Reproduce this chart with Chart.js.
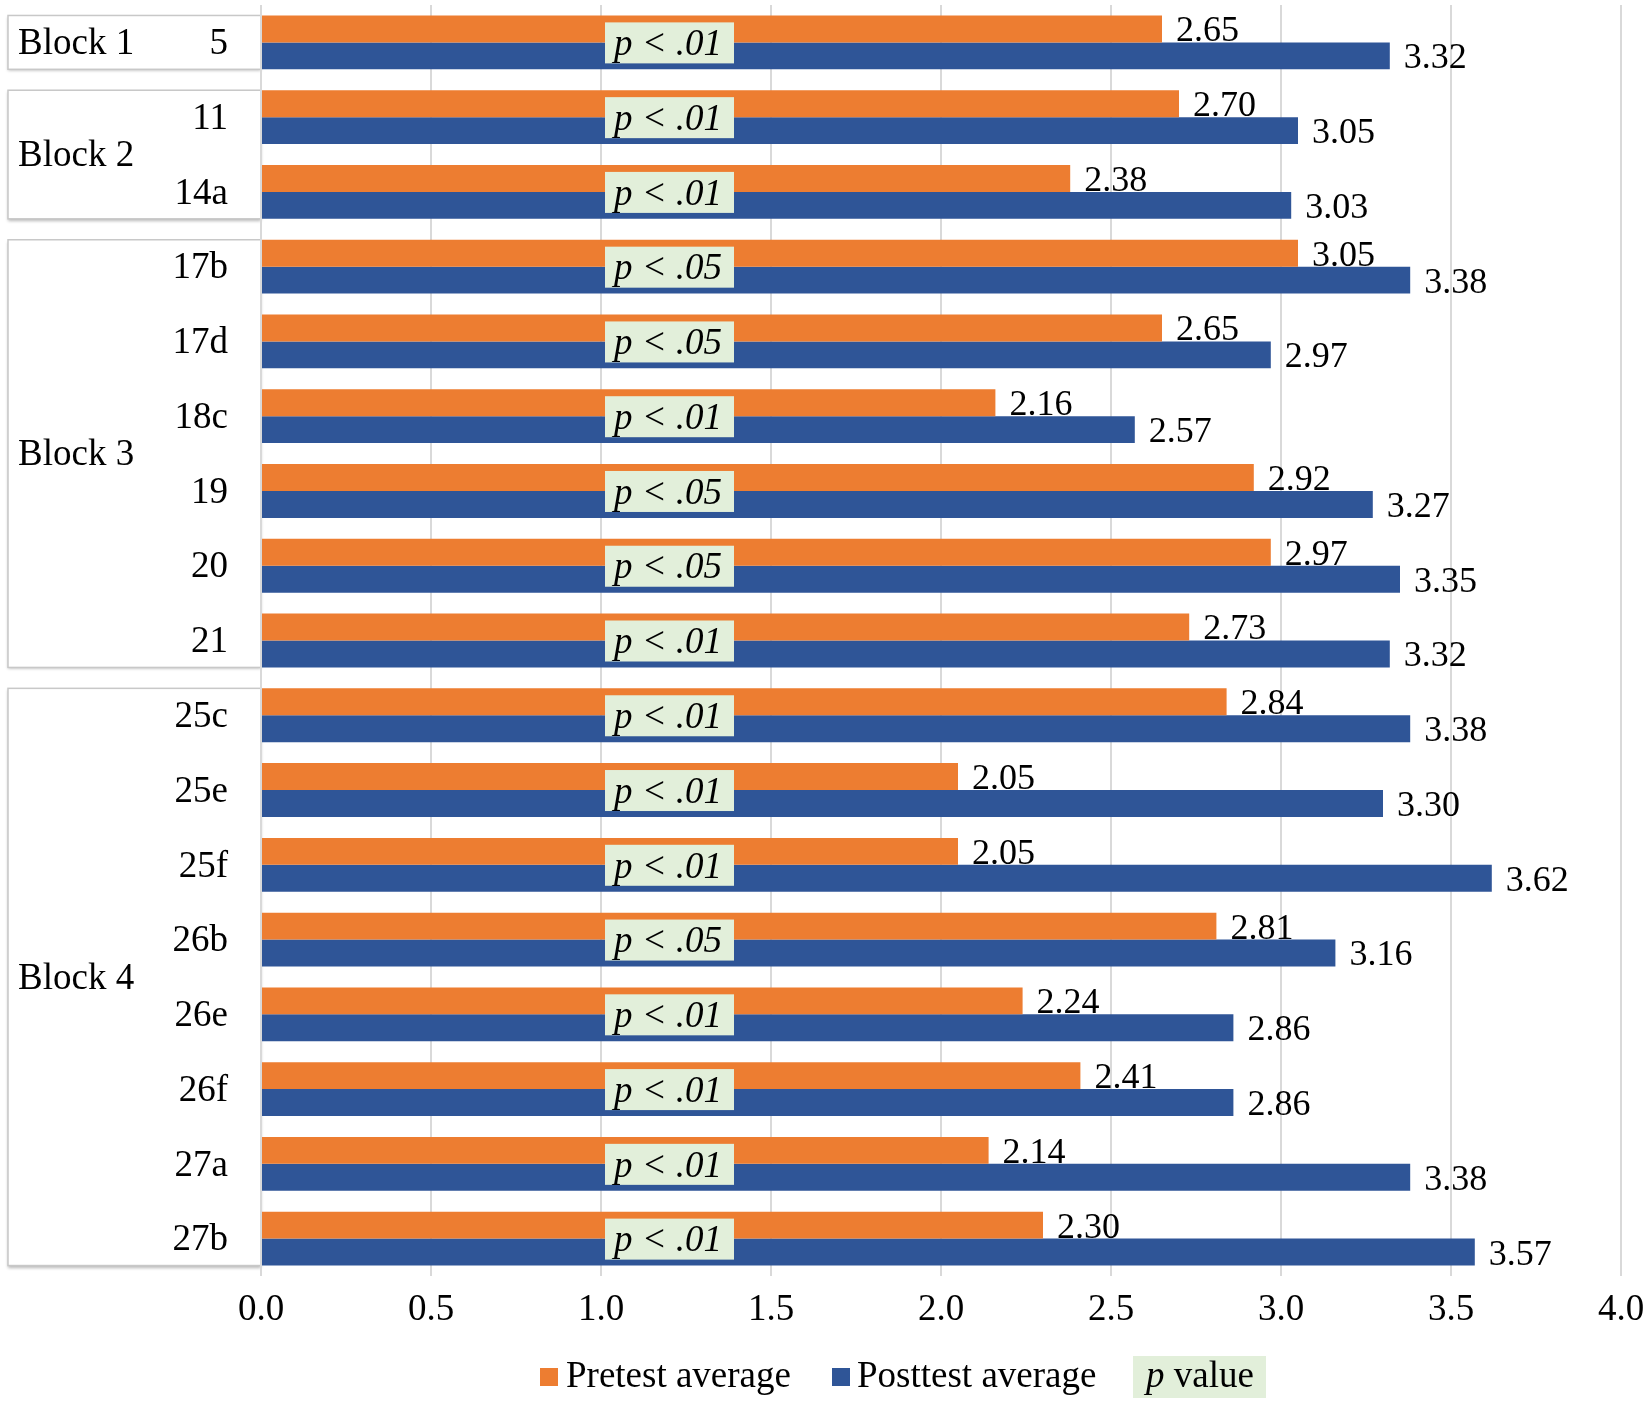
<!DOCTYPE html>
<html>
<head>
<meta charset="utf-8">
<script src="https://cdn.jsdelivr.net/npm/chart.js@4.4.1/dist/chart.umd.min.js"></script>
<style>
  html, body { margin: 0; padding: 0; background: #fff; }
  canvas { display: block; }
</style>
</head>
<body>
<canvas id="chart" width="1650" height="1405"></canvas>
<script>
// item numbers down the y axis, grouped into blocks
const items = ["5", "11", "14a", "17b", "17d", "18c", "19", "20", "21",
  "25c", "25e", "25f", "26b", "26e", "26f", "27a", "27b"];
const blockNames = ["Block 1", "Block 2", "Block 3", "Block 4"];
const blockSizes = [1, 2, 6, 8];

const pretest = [2.65, 2.70, 2.38, 3.05, 2.65, 2.16, 2.92, 2.97, 2.73,
  2.84, 2.05, 2.05, 2.81, 2.24, 2.41, 2.14, 2.30];
const posttest = [3.32, 3.05, 3.03, 3.38, 2.97, 2.57, 3.27, 3.35, 3.32,
  3.38, 3.30, 3.62, 3.16, 2.86, 2.86, 3.38, 3.57];
const pValues = ["p < .01", "p < .01", "p < .01", "p < .05", "p < .05", "p < .01", "p < .05", "p < .05", "p < .01",
  "p < .01", "p < .01", "p < .01", "p < .05", "p < .01", "p < .01", "p < .01", "p < .01"];

const xTicks = [0, 0.5, 1, 1.5, 2, 2.5, 3, 3.5, 4];

const ORANGE = "#ED7D31";
const BLUE = "#2F5597";
const PBOX = "#E2EFDA";
const FONT = '"Liberation Serif", "Times New Roman", serif';
const CAT_PCT = 0.72;
const P_AT = 1.2; // where the p value boxes sit on the x axis

const overlay = {
  id: "overlay",
  beforeDraw(chart) {
    const { ctx } = chart;
    const y = chart.scales.y;
    const half = (y.height / items.length) * CAT_PCT / 2;
    let start = 0;
    ctx.save();
    blockSizes.forEach((n, b) => {
      const top = y.getPixelForValue(start) - half;
      const bottom = y.getPixelForValue(start + n - 1) + half;
      ctx.save();
      ctx.shadowColor = "rgba(0,0,0,0.28)";
      ctx.shadowBlur = 3;
      ctx.shadowOffsetY = 2;
      ctx.fillStyle = "#fff";
      ctx.fillRect(8, top, chart.chartArea.left - 8, bottom - top);
      ctx.restore();
      ctx.strokeStyle = "#c8c8c8";
      ctx.lineWidth = 1.5;
      ctx.strokeRect(8, top, chart.chartArea.left - 8, bottom - top);
      ctx.fillStyle = "#000";
      ctx.font = "37px " + FONT;
      ctx.textAlign = "left";
      ctx.textBaseline = "middle";
      ctx.fillText(blockNames[b], 18, (top + bottom) / 2 + 2);
      start += n;
    });
    ctx.restore();
  },
  afterDatasetsDraw(chart) {
    const { ctx } = chart;
    const x = chart.scales.x;
    const y = chart.scales.y;
    ctx.save();

    // value labels at the bar ends
    ctx.font = "36px " + FONT;
    ctx.fillStyle = "#000";
    ctx.textAlign = "left";
    ctx.textBaseline = "middle";
    chart.data.datasets.forEach((ds, di) => {
      chart.getDatasetMeta(di).data.forEach((bar, i) => {
        ctx.fillText(ds.data[i].toFixed(2), bar.x + 14, bar.y + 3);
      });
    });

    // p value boxes
    const cx = x.getPixelForValue(P_AT);
    pValues.forEach((p, i) => {
      const cy = y.getPixelForValue(i);
      ctx.fillStyle = PBOX;
      ctx.fillRect(cx - 64, cy - 20, 129, 41);
      ctx.fillStyle = "#000";
      ctx.font = "italic 37px " + FONT;
      ctx.textAlign = "center";
      ctx.fillText(p, cx - 1, cy + 3);
    });

    // legend
    const ly = 1377;
    ctx.font = "37px " + FONT;
    ctx.textAlign = "left";
    ctx.fillStyle = ORANGE;
    ctx.fillRect(540, ly - 9, 18, 18);
    ctx.fillStyle = "#000";
    ctx.fillText("Pretest average", 566, ly);
    ctx.fillStyle = BLUE;
    ctx.fillRect(832, ly - 9, 18, 18);
    ctx.fillStyle = "#000";
    ctx.fillText("Posttest average", 857, ly);
    ctx.fillStyle = PBOX;
    ctx.fillRect(1133, ly - 21, 133, 42);
    ctx.fillStyle = "#000";
    ctx.font = "italic 37px " + FONT;
    ctx.fillText("p", 1146, ly);
    const pw = ctx.measureText("p").width;
    ctx.font = "37px " + FONT;
    ctx.fillText(" value", 1146 + pw, ly);
    ctx.restore();
  }
};

new Chart(document.getElementById("chart"), {
  type: "bar",
  data: {
    labels: items,
    datasets: [
      { label: "Pretest average", data: pretest, backgroundColor: ORANGE },
      { label: "Posttest average", data: posttest, backgroundColor: BLUE }
    ]
  },
  options: {
    indexAxis: "y",
    responsive: false,
    devicePixelRatio: 1,
    animation: false,
    datasets: { bar: { categoryPercentage: CAT_PCT, barPercentage: 1 } },
    layout: { padding: { left: 0, top: 5, right: 29, bottom: 79 } },
    plugins: { legend: { display: false }, tooltip: { enabled: false } },
    scales: {
      x: {
        min: 0,
        max: 4,
        afterBuildTicks: (s) => { s.ticks = xTicks.map(v => ({ value: v })); },
        afterFit: (s) => { s.height = 50; s.paddingLeft = 0; s.paddingRight = 0; },
        grid: { color: "#d9d9d9", lineWidth: 2, drawTicks: false },
        border: { display: false },
        ticks: {
          padding: 12,
          color: "#000",
          font: { family: FONT, size: 37 },
          callback: (v) => Number(v).toFixed(1)
        }
      },
      y: {
        afterFit: (s) => { s.width = 261; s.paddingTop = 0; s.paddingBottom = 0; },
        grid: { display: false, drawTicks: false },
        border: { display: false },
        ticks: {
          padding: 33,
          labelOffset: 2,
          color: "#000",
          font: { family: FONT, size: 37 }
        }
      }
    }
  },
  plugins: [overlay]
});
</script>
</body>
</html>
